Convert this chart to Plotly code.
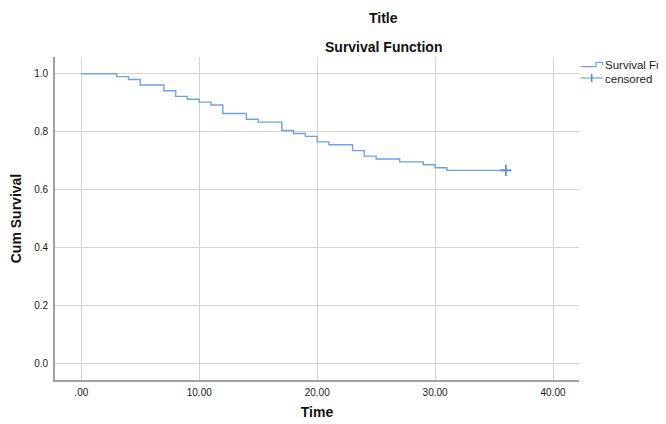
import plotly.graph_objects as go

# Data
times = [0, 3, 4, 5, 7, 8, 9, 10, 11, 12, 14, 15, 17, 18, 19, 20, 21, 23, 24, 25, 27, 29, 30, 31, 36]
surv = [1.0, 0.990, 0.980, 0.961, 0.941, 0.922, 0.912, 0.902, 0.892, 0.863, 0.843, 0.833,
        0.804, 0.794, 0.784, 0.765, 0.755, 0.735, 0.716, 0.706, 0.696, 0.686, 0.676, 0.667, 0.667]
censor_t = [36]
censor_s = [0.667]
x_ticks = [0, 10, 20, 30, 40]
x_tick_labels = [".00", "10.00", "20.00", "30.00", "40.00"]
y_ticks = [0.0, 0.2, 0.4, 0.6, 0.8, 1.0]
y_tick_labels = ["0.0", "0.2", "0.4", "0.6", "0.8", "1.0"]
legend_names = ["Survival Function", "censored"]

FONT = "Liberation Sans, Arial, sans-serif"
LINE_C = "#6ea1e6"
MARK_C = "#4a8be0"
TXT = "#1a1a1a"

# The page body has an 8px margin; figure sized to fill the rest of the window
W, H = 658, 416
L, R, T, B = 47, 87, 49, 44
PW, PH = W - L - R, H - T - B
OFF = 8


def xp(px):  # page pixel -> paper x
    return (px - OFF - L) / PW


def yp(py):  # page pixel -> paper y
    return (OFF + T + PH - py) / PH


fig = go.Figure()
fig.add_trace(go.Scatter(
    x=times, y=surv, mode="lines", line=dict(color=LINE_C, width=1.4, shape="hv"),
    name=legend_names[0], showlegend=False))
fig.add_trace(go.Scatter(
    x=censor_t, y=censor_s, mode="markers",
    marker=dict(symbol="cross-thin", size=8, line=dict(color=MARK_C, width=1.6), color=MARK_C),
    name=legend_names[1], showlegend=False))

fig.update_layout(
    width=W, height=H,
    margin=dict(l=L, r=R, t=T, b=B, autoexpand=False),
    paper_bgcolor="white", plot_bgcolor="white",
    font=dict(family=FONT, size=10, color=TXT),
    showlegend=False,
    xaxis=dict(range=[-2.23, 42.2], tickvals=x_ticks, ticktext=x_tick_labels,
               showgrid=True, gridcolor="#d3d3d3", gridwidth=1, zeroline=False,
               showline=True, linecolor="#a0a0a0", linewidth=1.6,
               ticks="outside", ticklen=2, tickcolor="rgba(0,0,0,0)",
               tickfont=dict(family=FONT, size=10, color=TXT),
               title=dict(text="<b>Time</b>", font=dict(family=FONT, size=14, color="#111111"),
                          standoff=10)),
    yaxis=dict(range=[-0.0554, 1.0575], tickvals=y_ticks, ticktext=y_tick_labels,
               showgrid=True, gridcolor="#d3d3d3", gridwidth=1, zeroline=False,
               showline=True, linecolor="#a0a0a0", linewidth=1.6,
               ticks="outside", ticklen=3, tickcolor="rgba(0,0,0,0)",
               tickfont=dict(family=FONT, size=10, color=TXT),
               title=dict(text="<b>Cum Survival</b>", font=dict(family=FONT, size=14, color="#111111"),
                          standoff=17)),
)

# Titles
fig.add_annotation(text="<b>Title</b>", x=xp(383.5), y=yp(18),
                   xref="paper", yref="paper", yanchor="middle", showarrow=False,
                   font=dict(family=FONT, size=14, color="#111111"))
fig.add_annotation(text="<b>Survival Function</b>", x=xp(383.5), y=yp(47),
                   xref="paper", yref="paper", yanchor="middle", showarrow=False,
                   font=dict(family=FONT, size=14, color="#111111"))

# Legend (SPSS style, drawn by hand so its entries can sit close together)
step_path = "M {} {} L {} {} L {} {} L {} {} L {} {}".format(
    xp(580.5), yp(66.7), xp(596), yp(66.7), xp(596), yp(62.3),
    xp(602.7), yp(62.3), xp(602.7), yp(65.5))
fig.add_shape(type="path", path=step_path, xref="paper", yref="paper",
              line=dict(color=LINE_C, width=1.2))
fig.add_shape(type="line", xref="paper", yref="paper",
              x0=xp(580.5), x1=xp(602.7), y0=yp(78), y1=yp(78),
              line=dict(color=LINE_C, width=1.2))
fig.add_shape(type="line", xref="paper", yref="paper",
              x0=xp(591.7), x1=xp(591.7), y0=yp(74), y1=yp(82.3),
              line=dict(color=MARK_C, width=1.5))
fig.add_annotation(text=legend_names[0], x=xp(603.5), y=yp(65.5), xref="paper", yref="paper",
                   xanchor="left", yanchor="middle", showarrow=False, borderpad=0,
                   font=dict(family=FONT, size=11.5, color=TXT))
fig.add_annotation(text=legend_names[1], x=xp(603.5), y=yp(79), xref="paper", yref="paper",
                   xanchor="left", yanchor="middle", showarrow=False, borderpad=0,
                   font=dict(family=FONT, size=11.5, color=TXT))

fig.write_html("out.html")
